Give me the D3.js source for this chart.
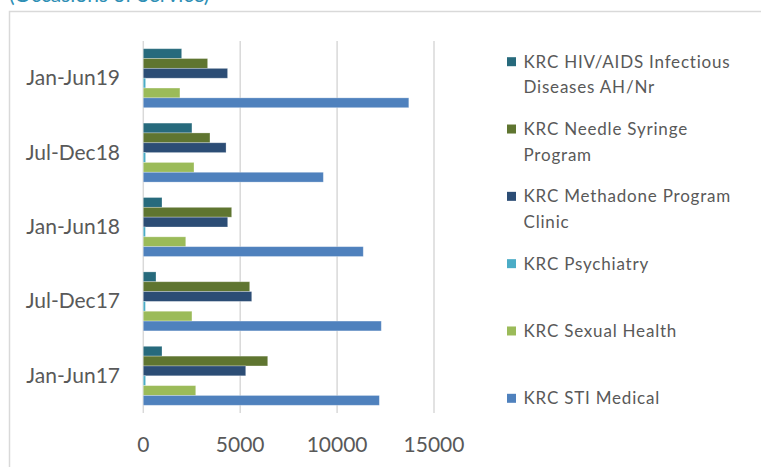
<!DOCTYPE html>
<html>
<head>
<meta charset="utf-8">
<script src="https://cdn.jsdelivr.net/npm/d3@7"></script>
<style>
  body { margin: 0; background: #ffffff; }
  svg { display: block; font-family: Lato, "Open Sans", sans-serif; }
</style>
</head>
<body>
<div id="chart"></div>
<script>
// chart data
const periods = ['Jan-Jun17', 'Jul-Dec17', 'Jan-Jun18', 'Jul-Dec18', 'Jan-Jun19'];
const seriesNames = [
    'KRC HIV/AIDS Infectious Diseases AH/Nr',
    'KRC Needle Syringe Program',
    'KRC Methadone Program Clinic',
    'KRC Psychiatry',
    'KRC Sexual Health',
    'KRC STI Medical',
];
const legendLines = [
    ['KRC HIV/AIDS Infectious', 'Diseases AH/Nr'],
    ['KRC Needle Syringe', 'Program'],
    ['KRC Methadone Program', 'Clinic'],
    ['KRC Psychiatry'],
    ['KRC Sexual Health'],
    ['KRC STI Medical'],
];
const hivValues = [965, 655, 965, 2510, 1980];
const needleValues = [6420, 5490, 4560, 3440, 3320];
const methadoneValues = [5285, 5595, 4355, 4270, 4350];
const psychiatryValues = [120, 110, 110, 120, 120];
const sexualHealthValues = [2705, 2510, 2190, 2615, 1890];
const stiValues = [12180, 12280, 11350, 9290, 13700];
const xTicks = [0, 5000, 10000, 15000];
const seriesColors = ['#276a7c', '#5f7530', '#2c4d75', '#4bacc6', '#9bbb59', '#4f81bd'];

const allValues = [hivValues, needleValues, methadoneValues, psychiatryValues, sexualHealthValues, stiValues];

const width = 761,
    height = 467;

const svg = d3
    .select('#chart')
    .append('svg')
    .attr('width', width)
    .attr('height', height);

// title, mostly cut off at the top of the picture
svg.append('text')
    .attr('x', 9)
    .attr('y', 1.5)
    .text('(Occasions of Service)')
    .style('font-size', '21px')
    .style('fill', '#2e8fb5');

// chart frame, runs off the right and bottom edges
svg.append('rect')
    .attr('x', 9.5)
    .attr('y', 11.5)
    .attr('width', 800)
    .attr('height', 500)
    .attr('fill', 'none')
    .attr('stroke', '#d9d9d9')
    .attr('stroke-width', 1.5);

// scales
const x = d3.scaleLinear().domain([0, 15000]).range([143.3, 434]);

const y = d3
    .scaleBand()
    .domain(periods.slice().reverse())
    .range([41, 413])
    .paddingInner(0.207)
    .paddingOuter(0.1035);

const ySub = d3
    .scaleBand()
    .domain(seriesNames)
    .range([0, y.bandwidth()]);

// vertical gridlines
svg.append('g')
    .selectAll('line')
    .data(xTicks)
    .join('line')
    .attr('x1', d => x(d))
    .attr('x2', d => x(d))
    .attr('y1', 41)
    .attr('y2', 413)
    .attr('stroke', '#d9d9d9')
    .attr('stroke-width', 1.5);

// bars
const groups = svg.append('g')
    .selectAll('g')
    .data(periods)
    .join('g')
    .attr('transform', d => `translate(0, ${y(d)})`);

groups.selectAll('rect')
    .data((p, i) => seriesNames.map((s, j) => ({ series: s, value: allValues[j][i], color: seriesColors[j] })))
    .join('rect')
    .attr('x', x(0))
    .attr('y', d => ySub(d.series))
    .attr('width', d => x(d.value) - x(0))
    .attr('height', ySub.bandwidth())
    .attr('fill', d => d.color)
    .attr('stroke', 'rgba(255,255,255,0.35)')
    .attr('stroke-width', 0.8);

// x axis labels
svg.append('g')
    .selectAll('text')
    .data(xTicks)
    .join('text')
    .attr('x', d => x(d))
    .attr('y', 451.5)
    .attr('text-anchor', 'middle')
    .text(d => d)
    .style('font-size', '21px')
    .style('fill', '#595959');

// y axis labels
svg.append('g')
    .selectAll('text')
    .data(periods)
    .join('text')
    .attr('x', 120)
    .attr('y', d => y(d) + y.bandwidth() / 2 + 7)
    .attr('text-anchor', 'end')
    .text(d => d)
    .style('font-size', '21px')
    .style('fill', '#595959');

// legend
const legendY = d3.scalePoint().domain(seriesNames).range([61.7, 398.3]);

const legend = svg.append('g')
    .selectAll('g')
    .data(seriesNames)
    .join('g')
    .attr('transform', d => `translate(507, ${legendY(d)})`);

legend.append('rect')
    .attr('x', 0)
    .attr('y', -4.5)
    .attr('width', 9)
    .attr('height', 9)
    .attr('fill', (d, i) => seriesColors[i]);

legend.append('text')
    .selectAll('tspan')
    .data((d, i) => legendLines[i])
    .join('tspan')
    .attr('x', 16.5)
    .attr('y', (d, i) => 6 + i * 25.6)
    .text(d => d)
    .style('font-size', '17px')
    .style('letter-spacing', '0.8px')
    .style('fill', '#595959');
</script>
</body>
</html>
